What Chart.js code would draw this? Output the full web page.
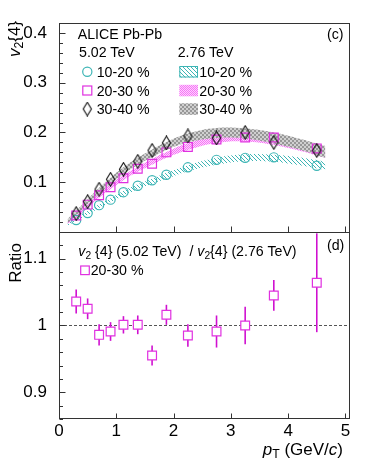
<!DOCTYPE html>
<html><head><meta charset="utf-8">
<script src="https://cdn.jsdelivr.net/npm/chart.js@4"></script>
<style>
html,body{margin:0;padding:0;background:#fff;}
#wrap{position:relative;width:390px;height:466px;font-family:'Liberation Sans',Arial,Helvetica,sans-serif;color:#000;overflow:hidden;}
canvas{position:absolute;left:0;top:0;}
.t{position:absolute;white-space:nowrap;line-height:1;font-size:14.2px;transform:translateY(-50%);}
.rt{position:absolute;white-space:nowrap;line-height:1;font-size:17px;transform:translate(-50%,-50%) rotate(-90deg);}
sub{font-size:0.72em;vertical-align:-0.3em;line-height:0;}
</style></head>
<body><div id="wrap">
<canvas id="c" width="390" height="466"></canvas>
<div class="t" style="left:77.7px;top:34.3px">ALICE Pb-Pb</div>
<div class="t" style="left:327px;top:34.3px">(c)</div>
<div class="t" style="left:79px;top:51.7px">5.02 TeV</div>
<div class="t" style="left:177.7px;top:51.7px">2.76 TeV</div>
<div class="t" style="left:96.7px;top:71.7px">10-20 %</div>
<div class="t" style="left:96.7px;top:90.5px">20-30 %</div>
<div class="t" style="left:96.7px;top:109px">30-40 %</div>
<div class="t" style="left:199.3px;top:71.7px">10-20 %</div>
<div class="t" style="left:199.3px;top:90.5px">20-30 %</div>
<div class="t" style="left:199.3px;top:109px">30-40 %</div>
<div class="t" style="left:78.3px;top:251px"><i>v</i><sub>2</sub> {4} (5.02 TeV)&nbsp; / <i>v</i><sub>2</sub>{4} (2.76 TeV)</div>
<div class="t" style="left:327px;top:245px">(d)</div>
<div class="t" style="left:90.7px;top:270px">20-30 %</div>
<div class="rt" style="left:13.5px;top:38.5px"><i>v</i><sub>2</sub>{4}</div>
<div class="rt" style="left:15px;top:263px">Ratio</div>
<div class="t" style="right:47px;top:449px;font-size:17px"><i>p</i><sub>T</sub> (GeV/<i>c</i>)</div>
</div>
<script>
// ---------------- data ----------------
const pT = [0.3, 0.5, 0.7, 0.9, 1.125, 1.375, 1.625, 1.875, 2.25, 2.75, 3.25, 3.75, 4.5];
const v2_502_1020 = [0.024, 0.038, 0.054, 0.065, 0.080, 0.093, 0.104, 0.115, 0.130, 0.145, 0.149, 0.150, 0.133];
const v2_502_2030 = [0.033, 0.055, 0.074, 0.090, 0.108, 0.127, 0.137, 0.160, 0.171, 0.186, 0.190, 0.190, 0.168];
const v2_502_3040 = [0.037, 0.061, 0.086, 0.106, 0.126, 0.142, 0.164, 0.179, 0.193, 0.189, 0.200, 0.180, 0.164];

const bandPt = [0.15, 0.3, 0.5, 0.7, 0.9, 1.125, 1.375, 1.625, 1.875, 2.25, 2.75, 3.25, 3.75, 4.25, 4.65];
const v2_276_1020 = [0.016, 0.025, 0.038, 0.052, 0.064, 0.078, 0.091, 0.102, 0.113, 0.128, 0.142, 0.149, 0.148, 0.141, 0.133];
const err_276_1020 = [0.003, 0.003, 0.004, 0.004, 0.004, 0.005, 0.005, 0.005, 0.006, 0.006, 0.007, 0.007, 0.007, 0.008, 0.008];
const v2_276_2030 = [0.019, 0.031, 0.052, 0.073, 0.091, 0.109, 0.126, 0.141, 0.155, 0.172, 0.186, 0.189, 0.183, 0.170, 0.157];
const err_276_2030 = [0.003, 0.003, 0.004, 0.004, 0.005, 0.005, 0.005, 0.006, 0.006, 0.007, 0.007, 0.007, 0.008, 0.008, 0.008];
const v2_276_3040 = [0.022, 0.038, 0.061, 0.083, 0.103, 0.123, 0.142, 0.158, 0.173, 0.189, 0.199, 0.198, 0.189, 0.175, 0.161];
const err_276_3040 = [0.004, 0.005, 0.005, 0.006, 0.006, 0.007, 0.007, 0.008, 0.008, 0.009, 0.010, 0.010, 0.011, 0.011, 0.012];

const ratio_2030 = [1.036, 1.025, 0.986, 0.991, 1.001, 1.001, 0.955, 1.016, 0.985, 0.991, 1.000, 1.045, 1.064];
const ratioErr_2030 = [0.018, 0.0155, 0.016, 0.014, 0.013, 0.014, 0.015, 0.015, 0.017, 0.024, 0.028, 0.023, 0.074];

const xTicks = [0, 1, 2, 3, 4, 5];

// ---------------- styles ----------------
const CYAN = '#3db5b5';
const MAG = '#e030e0';
const MAG_ERR = '#d010d0';

function makePattern(w, h, draw) {
  const c = document.createElement('canvas'); c.width = w; c.height = h;
  const g = c.getContext('2d'); draw(g);
  return document.getElementById('c').getContext('2d').createPattern(c, 'repeat');
}
const hatchCyan = makePattern(4, 4, g => {
  g.strokeStyle = CYAN; g.lineWidth = 1;
  g.beginPath();
  g.moveTo(-1, -1); g.lineTo(5, 5);
  g.moveTo(-1, 3); g.lineTo(1, 5);
  g.moveTo(3, -1); g.lineTo(5, 1);
  g.stroke();
});
const dotsMag = makePattern(2, 2, g => {
  g.fillStyle = '#ffd0ff'; g.fillRect(0, 0, 2, 2);
  g.fillStyle = '#f477f4'; g.fillRect(0, 0, 1, 1); g.fillRect(1, 1, 1, 1);
});
const checkGray = makePattern(4, 4, g => {
  g.fillStyle = '#d0d0d0'; g.fillRect(0, 0, 4, 4);
  g.fillStyle = '#979797'; g.fillRect(0, 0, 2, 2); g.fillRect(2, 2, 2, 2);
});

const diamond = document.createElement('canvas');
diamond.width = 11; diamond.height = 15;
(function () {
  const g = diamond.getContext('2d');
  g.strokeStyle = '#111'; g.lineWidth = 1.1;
  g.beginPath(); g.moveTo(5.5, 0.8); g.lineTo(9.6, 7.5); g.lineTo(5.5, 14.2); g.lineTo(1.4, 7.5); g.closePath(); g.stroke();
})();

const pts = (xs, ys) => xs.map((x, i) => ({ x, y: ys[i] }));
const band = (vals, errs, s) => pts(bandPt, vals.map((v, i) => v + s * errs[i]));

function bandSets(vals, errs, pat, ord) {
  const common = { yAxisID: 'y', borderWidth: 0, borderColor: 'rgba(0,0,0,0)', pointRadius: 0, tension: 0.4, order: ord, showLine: true };
  return [
    Object.assign({ data: band(vals, errs, 1), fill: '+1', backgroundColor: pat }, common),
    Object.assign({ data: band(vals, errs, -1), fill: false, backgroundColor: 'rgba(0,0,0,0)' }, common)
  ];
}

const datasets = [
  ...bandSets(v2_276_3040, err_276_3040, checkGray, 4),
  ...bandSets(v2_276_2030, err_276_2030, dotsMag, 5),
  ...bandSets(v2_276_1020, err_276_1020, hatchCyan, 6),
  { yAxisID: 'y', data: pts(pT, v2_502_1020), showLine: false, pointStyle: 'circle', pointRadius: 4.6,
    pointBorderColor: CYAN, pointBackgroundColor: 'rgba(0,0,0,0)', pointBorderWidth: 1.2, order: 3 },
  { yAxisID: 'y', data: pts(pT, v2_502_2030), showLine: false, pointStyle: 'rect', pointRadius: 6.2,
    pointBorderColor: MAG, pointBackgroundColor: 'rgba(0,0,0,0)', pointBorderWidth: 1.2, order: 2 },
  { yAxisID: 'y', data: pts(pT, v2_502_3040), showLine: false, pointStyle: diamond, pointRadius: 6,
    order: 1 },
  { yAxisID: 'y2', data: pts(pT, ratio_2030), showLine: false, pointStyle: 'rect', pointRadius: 6.2,
    pointBorderColor: MAG, pointBackgroundColor: '#fff', pointBorderWidth: 1.2, order: 0 }
];

const near = (v, s) => Math.abs(v / s - Math.round(v / s)) < 1e-6;
const yLabel = v => (near(v, 0.1) && Math.abs(v) > 1e-9) ? String(Number(v.toFixed(1))) : '';

const decor = {
  id: 'decor',
  beforeDatasetsDraw(chart) {
    const { ctx, scales: { x, y2 } } = chart;
    ctx.save();
    ctx.strokeStyle = '#555'; ctx.lineWidth = 1; ctx.setLineDash([3, 2]);
    const py = Math.round(y2.getPixelForValue(1)) + 0.5;
    ctx.beginPath(); ctx.moveTo(x.left, py); ctx.lineTo(x.right, py); ctx.stroke();
    ctx.setLineDash([]);
    ctx.strokeStyle = MAG_ERR; ctx.lineWidth = 1.6;
    pT.forEach((p, i) => {
      const px = x.getPixelForValue(p);
      const lo = Math.max(ratio_2030[i] - ratioErr_2030[i], y2.min);
      const hi = Math.min(ratio_2030[i] + ratioErr_2030[i], y2.max);
      ctx.beginPath(); ctx.moveTo(px, y2.getPixelForValue(lo)); ctx.lineTo(px, y2.getPixelForValue(hi)); ctx.stroke();
    });
    ctx.restore();
  },
  afterDraw(chart) {
    const { ctx, chartArea: ca, scales: { x, y, y2 } } = chart;
    ctx.save();
    ctx.strokeStyle = '#333'; ctx.lineWidth = 1;
    const L = Math.round(ca.left) + 0.5, R = Math.round(ca.right) - 0.5;
    const T = Math.round(ca.top) + 0.5, B = Math.round(ca.bottom) - 0.5;
    const M = Math.round(y.bottom) + 0.5;
    ctx.strokeRect(L, T, R - L, B - T);
    ctx.beginPath(); ctx.moveTo(L, M); ctx.lineTo(R, M); ctx.stroke();
    [y, y2].forEach(s => {
      const k0 = Math.ceil(s.min / 0.02 - 1e-6), k1 = Math.floor(s.max / 0.02 + 1e-6);
      for (let k = k0; k <= k1; k++) {
        const v = k * 0.02, len = (k % 5 === 0) ? 6 : 3.5;
        const py = Math.round(s.getPixelForValue(v)) + 0.5;
        ctx.beginPath(); ctx.moveTo(L, py); ctx.lineTo(L + len, py); ctx.stroke();
      }
    });
    [y.bottom, y2.bottom].forEach(b => {
      xTicks.forEach(t => {
        const px = Math.round(x.getPixelForValue(t)) + 0.5;
        ctx.beginPath(); ctx.moveTo(px, b); ctx.lineTo(px, b - 5.5); ctx.stroke();
      });
    });
    // legend glyphs
    ctx.lineWidth = 1.2;
    ctx.strokeStyle = CYAN; ctx.beginPath(); ctx.arc(87.3, 71.7, 4.6, 0, Math.PI * 2); ctx.stroke();
    ctx.strokeStyle = MAG; ctx.strokeRect(82.8, 86, 9, 9);
    ctx.drawImage(diamond, 87.3 - 5.5, 109 - 7.5);
    ctx.fillStyle = hatchCyan; ctx.fillRect(179.3, 66, 18.7, 11.5);
    ctx.strokeStyle = CYAN; ctx.lineWidth = 1; ctx.strokeRect(179.8, 66.5, 17.7, 10.5);
    ctx.fillStyle = dotsMag; ctx.fillRect(179.3, 84.8, 18.7, 11.5);
    ctx.fillStyle = checkGray; ctx.fillRect(179.3, 103.3, 18.7, 11.5);
    ctx.lineWidth = 1.2; ctx.strokeStyle = MAG; ctx.fillStyle = '#fff';
    ctx.fillRect(80.7, 266, 8.6, 8.6); ctx.strokeRect(80.7, 266, 8.6, 8.6);
    ctx.restore();
  }
};

Chart.defaults.font.family = "'Liberation Sans', Arial, Helvetica, sans-serif";
Chart.defaults.color = '#000';

new Chart(document.getElementById('c'), {
  type: 'line',
  data: { datasets },
  options: {
    responsive: false, animation: false, devicePixelRatio: 1,
    layout: { padding: { top: 23, right: 40, left: 0, bottom: 0 } },
    plugins: { legend: { display: false }, tooltip: { enabled: false } },
    scales: {
      x: { type: 'linear', min: 0, max: 5.08, position: 'bottom',
        grid: { display: false }, border: { display: false },
        afterBuildTicks: s => { s.ticks = xTicks.map(v => ({ value: v })); },
        ticks: { font: { size: 17, lineHeight: 1 }, padding: -4, maxRotation: 0, autoSkip: false, callback: v => String(v) },
        afterFit: s => { s.height = 47; } },
      y2: { type: 'linear', position: 'left', stack: 'p', stackWeight: 187, min: 0.86, max: 1.14,
        grid: { display: false }, border: { display: false },
        ticks: { stepSize: 0.02, autoSkip: false, font: { size: 17 }, padding: 4, callback: yLabel },
        afterFit: s => { s.width = 59; } },
      y: { type: 'linear', position: 'left', stack: 'p', stackWeight: 209, min: 0, max: 0.42,
        grid: { display: false }, border: { display: false },
        ticks: { stepSize: 0.02, autoSkip: false, font: { size: 17 }, padding: 4, callback: yLabel },
        afterFit: s => { s.width = 59; } }
    }
  },
  plugins: [decor]
});
</script>
</body></html>
